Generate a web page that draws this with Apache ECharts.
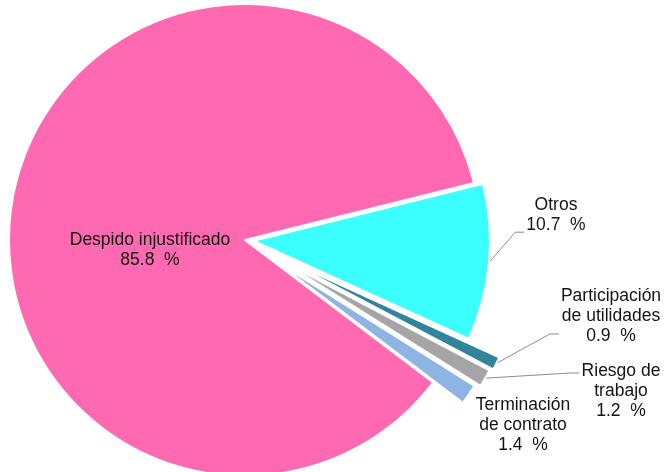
<!DOCTYPE html>
<html>
<head>
    <meta charset="utf-8">
    <script src="https://cdn.jsdelivr.net/npm/echarts@6/dist/echarts.min.js"></script>
    <title></title>
    <style>
        html, body { margin: 0; padding: 0; background: #fff; }
        #myChart { width: 664px; height: 472px; }
    </style>
</head>
<body>
<div id="myChart"></div>
<script>
    // slices, clockwise from the top edge of "Otros"
    var names = ['Otros', 'Participación\nde utilidades', 'Riesgo de\ntrabajo', 'Terminación\nde contrato', 'Despido injustificado'];
    var values = [10.7, 0.9, 1.2, 1.4, 85.8];

    var colors = ['#3bffff', '#31849b', '#a5a5a5', '#8db4e2', '#ff69b1'];
    var explode = [9, 44, 41, 36, 0];
    // label centre, and where the leader meets the label (fraction of label height, null = no leader)
    var labelAt = [[556, 215], [611, 316], [621, 391], [523, 425], [150, 250]];
    var leadAt = [0.93, 0.8, 0.2, null, null];

    var myChart = echarts.init(document.getElementById('myChart'));

    var pieBase = {
        type: 'pie',
        center: [245, 240],
        radius: 236,
        startAngle: 14,
        clockwise: true,
        animation: false,
        avoidLabelOverlap: false,
        emphasis: { disabled: true }
    };

    // one series per slice so each can be pulled out by its own amount
    var series = names.map(function (n, i) {
        return echarts.util.merge({
            selectedMode: 'multiple',
            selectedOffset: explode[i],
            label: { show: false },
            labelLine: { show: false },
            data: names.map(function (m, j) {
                var mine = j === i;
                return {
                    name: m,
                    value: values[j],
                    selected: mine && explode[i] > 0,
                    itemStyle: mine
                        ? { color: colors[j], borderColor: '#ffffff', borderWidth: 2 }
                        : { color: 'rgba(0,0,0,0)', borderWidth: 0 }
                };
            })
        }, pieBase, true);
    });

    // labels on an unexploded, invisible copy
    series.push(echarts.util.merge({
        silent: true,
        label: {
            show: true,
            formatter: '{b}\n{c}  %',
            color: '#141414',
            fontFamily: 'Liberation Sans, Arial, sans-serif',
            fontSize: 17.5,
            lineHeight: 20
        },
        labelLine: { show: true, length2: 10, lineStyle: { color: '#8c8c8c', width: 1 } },
        labelLayout: function (p) {
            var i = p.dataIndex;
            var w = p.labelRect.width, h = p.labelRect.height;
            var out = { x: labelAt[i][0], y: labelAt[i][1], align: 'center', verticalAlign: 'middle' };
            if (leadAt[i] != null && p.labelLinePoints) {
                var p0 = p.labelLinePoints[1];
                var p2 = [labelAt[i][0] - w / 2 - 2, labelAt[i][1] - h / 2 + h * leadAt[i]];
                var p1 = [p2[0] - 9, p2[1]];
                out.labelLinePoints = [p0, p1, p2];
            }
            return out;
        },
        data: names.map(function (m, j) {
            return {
                name: m,
                value: values[j],
                itemStyle: { color: 'rgba(0,0,0,0)', borderWidth: 0 },
                label: { position: j === 4 ? 'inside' : 'outside' },
                labelLine: { show: leadAt[j] != null, length: explode[j] }
            };
        })
    }, pieBase, true));

    myChart.setOption({
        backgroundColor: '#ffffff',
        series: series
    });
</script>
</body>
</html>
